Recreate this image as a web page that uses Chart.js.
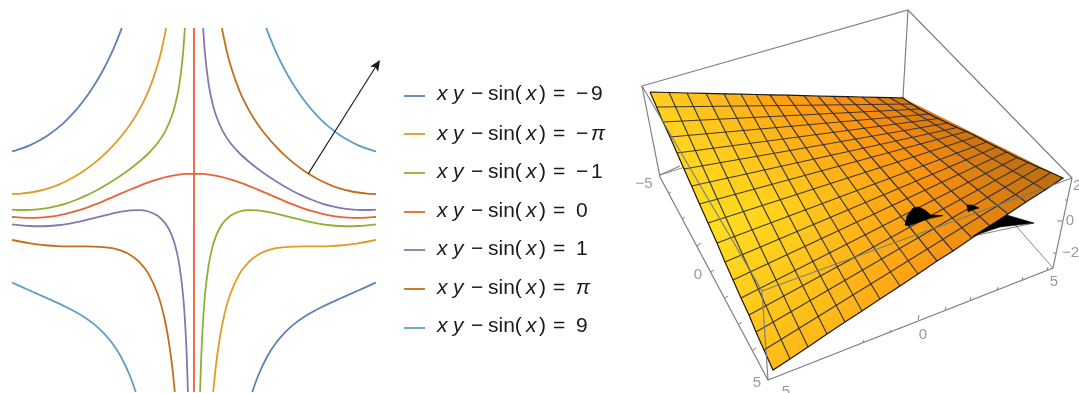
<!DOCTYPE html>
<html><head><meta charset="utf-8">
<style>html,body{margin:0;padding:0;background:#fff;overflow:hidden}canvas{display:block;filter:blur(.45px)}</style>
<script src="https://cdn.jsdelivr.net/npm/chart.js@4"></script>
</head><body><canvas id="c" width="1079" height="393"></canvas>
<script>
// ---------- contour levels (left panel, data units) ----------
const levelLabels=["\u22129","\u2212\u03c0","\u22121","0","1","\u03c0","9"];
const levelColors=["#5E81B5","#E19C24","#8FB032","#EB6235","#8778B3","#C56E1A","#5D9EC7"];
const m9X=[-5,-4.75,-4.5,-4.25,-4,-3.75,-3.5,-3.25,-3,-2.75,-2.5,-2.25,-2,-1.985,null,1.6,1.75,2,2.25,2.5,2.75,3,3.25,3.5,3.75,4,4.25,4.5,4.75,5];
const m9Y=[1.608,1.684,1.783,1.907,2.061,2.248,2.471,2.736,3.047,3.412,3.839,4.346,4.955,5,null,-5,-4.581,-4.045,-3.654,-3.361,-3.134,-2.953,-2.803,-2.672,-2.552,-2.439,-2.328,-2.217,-2.105,-1.992];
const mPiX=[-5,-4.75,-4.5,-4.25,-4,-3.75,-3.5,-3.25,-3,-2.75,-2.5,-2.25,-2,-1.75,-1.5,-1.25,-1,-.9,-.8,-.766,null,.527,.6,.7,.8,.9,1,1.25,1.5,1.75,2,2.25,2.5,2.75,3,3.25,3.5,3.75,4,4.25,4.5,4.75,5];
const mPiY=[.437,.451,.481,.529,.596,.685,.797,.933,1.094,1.281,1.496,1.742,2.025,2.358,2.759,3.272,3.983,4.361,4.824,5,null,-5,-4.295,-3.568,-3.03,-2.62,-2.3,-1.754,-1.429,-1.233,-1.116,-1.05,-1.017,-1.004,-1,-1,-.998,-.99,-.975,-.95,-.915,-.872,-.82];
const m1X=[-5,-4.75,-4.5,-4.25,-4,-3.75,-3.5,-3.25,-3,-2.75,-2.5,-2.25,-2,-1.75,-1.5,-1.25,-1,-.8,-.6,-.5,-.4,-.3,-.25,null,.167,.2,.25,.3,.4,.5,.6,.7,.8,1,1.25,1.5,1.75,2,2.25,2.5,2.75,3,3.25,3.5,3.75,4,4.25,4.5,4.75,5];
const m1Y=[.008,0,.005,.025,.061,.114,.185,.274,.38,.502,.639,.79,.955,1.134,1.332,1.559,1.842,2.147,2.608,2.959,3.474,4.318,5,null,-5,-4.007,-3.01,-2.348,-1.527,-1.041,-.726,-.508,-.353,-.159,-.041,-.002,-.009,-.045,-.099,-.161,-.225,-.286,-.341,-.386,-.419,-.439,-.446,-.439,-.421,-.392];
const z0X=[-5,-4.75,-4.5,-4.25,-4,-3.75,-3.5,-3.25,-3,-2.75,-2.5,-2.25,-2,-1.75,-1.5,-1.25,-1,-.75,-.5,-.25,0,.25,.5,.75,1,1.25,1.5,1.75,2,2.25,2.5,2.75,3,3.25,3.5,3.75,4,4.25,4.5,4.75,5,null,0,0];
const z0Y=[-.192,-.21,-.217,-.211,-.189,-.152,-.1,-.033,.047,.139,.239,.346,.455,.562,.665,.759,.842,.909,.959,.99,1,.99,.959,.909,.842,.759,.665,.562,.455,.346,.239,.139,.047,-.033,-.1,-.152,-.189,-.211,-.217,-.21,-.192,null,-5,5];
const p1X=[-5,-4.75,-4.5,-4.25,-4,-3.75,-3.5,-3.25,-3,-2.75,-2.5,-2.25,-2,-1.75,-1.5,-1.25,-1,-.8,-.7,-.6,-.5,-.4,-.3,-.25,-.2,-.167,null,.25,.3,.4,.5,.6,.8,1,1.25,1.5,1.75,2,2.25,2.5,2.75,3,3.25,3.5,3.75,4,4.25,4.5,4.75,5];
const p1Y=[-.392,-.421,-.439,-.446,-.439,-.419,-.386,-.341,-.286,-.225,-.161,-.099,-.045,-.009,-.002,-.041,-.159,-.353,-.508,-.726,-1.041,-1.527,-2.348,-3.01,-4.007,-5,null,5,4.318,3.474,2.959,2.608,2.147,1.842,1.559,1.332,1.134,.955,.79,.639,.502,.38,.274,.185,.114,.061,.025,.005,0,.008];
const pPiX=[-5,-4.75,-4.5,-4.25,-4,-3.75,-3.5,-3.25,-3,-2.75,-2.5,-2.25,-2,-1.75,-1.5,-1.25,-1,-.9,-.8,-.7,-.6,-.527,null,.766,.8,.9,1,1.25,1.5,1.75,2,2.25,2.5,2.75,3,3.25,3.5,3.75,4,4.25,4.5,4.75,5];
const pPiY=[-.82,-.872,-.915,-.95,-.975,-.99,-.998,-1,-1,-1.004,-1.017,-1.05,-1.116,-1.233,-1.429,-1.754,-2.3,-2.62,-3.03,-3.568,-4.295,-5,null,5,4.824,4.361,3.983,3.272,2.759,2.358,2.025,1.742,1.496,1.281,1.094,.933,.797,.685,.596,.529,.481,.451,.437];
const p9X=[-5,-4.75,-4.5,-4.25,-4,-3.75,-3.5,-3.25,-3,-2.75,-2.5,-2.25,-2,-1.75,-1.6,null,1.985,2,2.25,2.5,2.75,3,3.25,3.5,3.75,4,4.25,4.5,4.75,5];
const p9Y=[-1.992,-2.105,-2.217,-2.328,-2.439,-2.552,-2.672,-2.803,-2.953,-3.134,-3.361,-3.654,-4.045,-4.581,-5,null,5,4.955,4.346,3.839,3.412,3.047,2.736,2.471,2.248,2.061,1.907,1.783,1.684,1.608];
const curveX=[m9X,mPiX,m1X,z0X,p1X,pPiX,p9X];
const curveY=[m9Y,mPiY,m1Y,z0Y,p1Y,pPiY,p9Y];
const arrowX=[3.1416,5.0];
const arrowY=[1,3.95];
const arrowHeadX=[4.84,5.11,5.06,4.98];
const arrowHeadY=[3.94,4.12,3.8,3.92];

// ---------- projected 3D surface (right panel, picture-plane units) ----------
const edgeTopX=[650,669,687,706,724,741,756,770,787,804,818,833,847,862,877,890,903];
const edgeTopY=[92,92.5,93,93.3,93.8,94.2,94.5,94.8,95.2,95.6,96,96.3,96.7,97,97.3,97.7,98];
const edgeNearX=[773,790,808,827,845,862,880,900,918,937,953,972,990,1008,1026,1045,1063];
const edgeNearY=[370,359,347,334,322,311,299,286,274,261,251,238,226,214,202,190,178];
const edgeLeftX=[650,656.6,663,670,677,684,691.6,699.5,708,717,725,733,741,749,756,764,773];
const edgeLeftY=[92,107,122,137,153,169,186,204,223,243,262,280,298,315,332,350,370];
const edgeFarX=[903,911.5,920,929,938,947.5,957,966.5,976.5,986.5,996.5,1006.5,1017,1028,1039,1051,1063];
const edgeFarY=[98,104,109,114,118.5,123,127.5,131.5,136.5,142,147,152,157.5,162.5,167.5,172.5,178];
const boxBackX=[660,903,null,1053,903];
const boxBackY=[175,97,null,268,97];
const boxX=[642,908,1072,null,908,903,null,642,660,768,1053,1072,null,660,680];
const boxY=[86,10,178,null,10,97,null,86,177,380,268,178,null,175,166];
const throughX=[642,762,768,null,762,1072];
const throughY=[86,291,380,null,291,178];
const tickX=[668,671,null,682,685,null,697,701,null,711,714,null,725,728,null,739,742,null,753,756,null,863,864,null,890,891,null,918,919,null,945,946,null,970,971,null,997,998,null,1022,1023,null,1047,1048,null,1068,1065,null,1062,1057,null,1056,1053];
const tickY=[194,192,null,219,217,null,246,243,null,272,270,null,298,296,null,324,322,null,350,348,null,343,340,null,333,330,null,320,315,null,310,307,null,300,297,null,290,287,null,280,277,null,270,267,null,200,200,null,221,221,null,253,253];
const blobs=[
 {x:[905,907,913,919,925,931,943,930,922,908],y:[225,216,208,207,210,215,215.5,218,221,226]},
 {x:[967,972,979,972,968],y:[205,205,208,210,212]},
 {x:[973,1007,1034,1017,1000],y:[236,215,223,225,227]}
];
const axisTickText=["\u22125","0","5","5","0","5","20","0","\u221220"];
const axisTickX=[644,698,757,786,923,1054,1073,1070,1062];
const axisTickY=[184,275,383,392,335,282,186,221,253];
const legendRowY=[100,140,178,217,255,294,332];
const legendSwatchY=[96,134,173,212,250,289,328];

// ---------- styling helpers ----------
const topStops=["#FFCF1F","#FFB518","#FF9C12","#FB8A0E","#D9770E"];
const midStops=["#FFDF20","#FFD01D","#FFB217","#FB9210","#C97010"];
const nearStops=["#FFBC19","#FFB518","#FFA014","#E5860F","#BC6A10"];
function hex(c){return [1,3,5].map(i=>parseInt(c.substr(i,2),16));}
function mix(stops,t){const p=t*(stops.length-1),i=Math.min(Math.floor(p),stops.length-2),f=p-i,a=hex(stops[i]),b=hex(stops[i+1]);
 return `rgb(${a.map((v,k)=>Math.round(v+(b[k]-v)*f)).join(",")})`;}
const zip=(xs,ys)=>xs.map((x,i)=>({x:x===null?null:x,y:ys[i]===null?null:ys[i]}));
// polygon path starting at its leftmost vertex and ending on its rightmost one (filler clips between the ends)
function poly(points){let li=0,ri=0;points.forEach((p,i)=>{if(p.x<points[li].x)li=i;if(p.x>points[ri].x)ri=i;});
 const out=[];for(let k=0;k<=points.length;k++)out.push(points[(li+k)%points.length]);out.push(points[ri]);return out;}
const A={xAxisID:"xA",yAxisID:"yA",showLine:true,pointRadius:0,pointHoverRadius:0,spanGaps:false};
const B={xAxisID:"xB",yAxisID:"yB",showLine:true,pointRadius:0,pointHoverRadius:0,spanGaps:false};
const datasets=[];
datasets.push({...B,label:"box back",data:zip(boxBackX,boxBackY),borderColor:"#8a8a8a",borderWidth:1,order:30});
datasets.push({...B,label:"box",data:zip(boxX,boxY),borderColor:"#808080",borderWidth:1.2,order:29});
datasets.push({...B,label:"ticks",data:zip(tickX,tickY),borderColor:"#808080",borderWidth:1,order:29});
for(let i=0;i<16;i++){
 const t=(i+.5)/16;
 const pts=[{x:edgeTopX[i],y:edgeTopY[i]},{x:edgeTopX[i+1],y:edgeTopY[i+1]},{x:edgeNearX[i+1],y:edgeNearY[i+1]},{x:edgeNearX[i],y:edgeNearY[i]}];
 datasets.push({...B,label:"strip",data:poly(pts),fill:"shape",borderWidth:0,borderDash:[1],order:20,
  backgroundColor:c=>{const sx=c.chart.scales.xB,sy=c.chart.scales.yB;
   const co=[sx.getPixelForValue((pts[0].x+pts[1].x)/2),sy.getPixelForValue((pts[0].y+pts[1].y)/2),sx.getPixelForValue((pts[2].x+pts[3].x)/2),sy.getPixelForValue((pts[2].y+pts[3].y)/2)];
   if(!co.every(Number.isFinite))return mix(midStops,t);
   const g=c.chart.ctx.createLinearGradient(co[0],co[1],co[2],co[3]);
   g.addColorStop(0,mix(topStops,t));g.addColorStop(.5,mix(midStops,t));g.addColorStop(1,mix(nearStops,t));return g;}});
}
for(let i=1;i<16;i++){
 datasets.push({...B,label:"mesh",data:[{x:edgeTopX[i],y:edgeTopY[i]},{x:edgeNearX[i],y:edgeNearY[i]}],borderColor:"rgba(50,50,58,.95)",borderWidth:1.2,order:15});
 datasets.push({...B,label:"mesh",data:[{x:edgeLeftX[i],y:edgeLeftY[i]},{x:edgeFarX[i],y:edgeFarY[i]}],borderColor:"rgba(50,50,58,.95)",borderWidth:1.2,order:15});
}
datasets.push({...B,label:"outline",data:[...zip(edgeTopX,edgeTopY),...zip(edgeFarX,edgeFarY),...zip(edgeNearX,edgeNearY).reverse(),...zip(edgeLeftX,edgeLeftY).reverse()],borderColor:"#1c1710",borderWidth:1.2,order:14});
blobs.forEach(b=>datasets.push({...B,label:"hole",data:poly(zip(b.x,b.y)),fill:"shape",backgroundColor:"#000",borderColor:"#000",borderWidth:.5,order:12}));
datasets.push({...B,label:"box through",data:zip(throughX,throughY),borderColor:"rgba(115,120,125,.9)",borderWidth:1.2,order:10});
curveX.forEach((xs,i)=>datasets.push({...A,label:"x y \u2212 sin(x) = "+levelLabels[i],data:zip(xs,curveY[i]),borderColor:levelColors[i],borderWidth:1.8,cubicInterpolationMode:"monotone",order:5}));
datasets.push({...A,label:"gradient",data:zip(arrowX,arrowY),borderColor:"#1a1a1a",borderWidth:1.1,order:4});
datasets.push({...A,label:"arrow head",data:poly(zip(arrowHeadX,arrowHeadY)),fill:"shape",backgroundColor:"#1a1a1a",borderWidth:0,order:3});

const textPlugin={id:"texts",afterDraw(chart){
 const ctx=chart.ctx,sx=chart.scales.xB,sy=chart.scales.yB;
 ctx.save();ctx.textBaseline="alphabetic";
 const R='21px "Liberation Sans"',I='italic 21px "Liberation Sans"';
 levelLabels.forEach((lab,i)=>{
  const y=sy.getPixelForValue(legendRowY[i]),ys=sy.getPixelForValue(legendSwatchY[i]);
  ctx.strokeStyle=levelColors[i];ctx.lineWidth=1.8;ctx.beginPath();
  ctx.moveTo(sx.getPixelForValue(404),ys);ctx.lineTo(sx.getPixelForValue(425),ys);ctx.stroke();
  ctx.fillStyle="#1a1a1a";
  const neg=lab[0]==="\u2212",val=neg?lab.slice(1):lab;
  const runs=[["x",437,I],["y",453,I],["\u2212",471,R],["sin(",488,R],["x",526,I],[")",539,R],["=",553,R]];
  if(neg)runs.push(["\u2212",576,R]);
  runs.push([val,neg?591:576,val==="\u03c0"?I:R]);
  runs.forEach(r=>{ctx.font=r[2];ctx.fillText(r[0],sx.getPixelForValue(r[1]),y);});
 });
 ctx.font='15px "Liberation Sans"';ctx.fillStyle="#9a9a9a";ctx.textBaseline="middle";
 axisTickText.forEach((t,i)=>{ctx.textAlign=(i===6||i===8)?"left":"center";ctx.fillText(t,sx.getPixelForValue(axisTickX[i]),sy.getPixelForValue(axisTickY[i]));});
 ctx.restore();
}};
const ln=(axis,min,max,reverse)=>({type:"linear",axis,min,max,reverse:!!reverse,display:false});
new Chart(document.getElementById("c"),{type:"scatter",data:{datasets},plugins:[textPlugin],options:{
 responsive:false,animation:false,layout:{padding:0},
 plugins:{legend:{display:false},tooltip:{enabled:false},title:{display:false}},
 scales:{xA:ln("x",-5.33,24.313),yA:ln("y",-5.027,5.769),xB:ln("x",0,1079),yB:ln("y",0,393,true)}
}});
</script></body></html>
